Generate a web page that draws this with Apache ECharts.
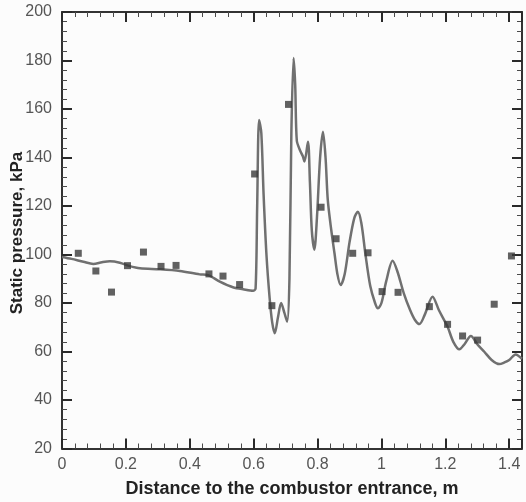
<!DOCTYPE html>
<html>
<head>
<meta charset="utf-8">
<script src="https://cdn.jsdelivr.net/npm/echarts@6/dist/echarts.min.js"></script>
<style>
html,body{margin:0;padding:0;background:#fcfcfc;}
#chart{width:526px;height:502px;}
</style>
</head>
<body>
<div id="chart"></div>
<script>
// Simulation curve
var lineX = [0, 0.03, 0.067, 0.098, 0.125, 0.15, 0.181, 0.21, 0.244, 0.306, 0.369, 0.431, 0.457, 0.494, 0.535, 0.57, 0.598, 0.606, 0.611, 0.617, 0.624, 0.631, 0.64, 0.65, 0.658, 0.666, 0.676, 0.686, 0.696, 0.705, 0.712, 0.718, 0.725, 0.73, 0.735, 0.745, 0.754, 0.759, 0.77, 0.776, 0.782, 0.79, 0.798, 0.808, 0.817, 0.825, 0.832, 0.843, 0.853, 0.862, 0.872, 0.885, 0.9, 0.915, 0.926, 0.937, 0.95, 0.965, 0.98, 0.989, 1.0, 1.015, 1.035, 1.05, 1.07, 1.09, 1.105, 1.119, 1.135, 1.16, 1.18, 1.207, 1.225, 1.244, 1.26, 1.28, 1.3, 1.322, 1.345, 1.369, 1.385, 1.4, 1.42, 1.44];
var lineY = [99, 98.2, 97, 96.1, 96.8, 97.2, 96.6, 95.3, 94.3, 93.9, 93.2, 91.8, 91.5, 88.8, 86.5, 85.6, 85.1, 86, 120, 155.5, 150, 125, 100, 82, 72, 67.5, 74, 80, 76, 72.3, 90, 150, 181, 170, 147, 143, 140.5, 138.3, 146.5, 130, 110, 102, 115, 140, 150.6, 140, 122.5, 110, 100.5, 92, 87.4, 92, 105, 115, 117.6, 113, 100, 87, 80, 77.8, 80, 89, 97.4, 93, 84, 77, 73, 71.3, 75, 82.6, 77, 70.2, 64, 60.9, 63, 66.4, 63, 59.9, 56.5, 54.8, 55.5, 56.5, 58.8, 57];
// Experimental points
var markX = [0.051, 0.106, 0.155, 0.205, 0.255, 0.31, 0.357, 0.46, 0.504, 0.556, 0.603, 0.657, 0.709, 0.811, 0.858, 0.91, 0.958, 1.002, 1.052, 1.15, 1.207, 1.254, 1.301, 1.353, 1.407];
var markY = [100.5, 93.2, 84.5, 95.4, 101, 95.1, 95.5, 92, 91.1, 87.6, 133.2, 78.9, 161.9, 119.5, 106.5, 100.5, 100.7, 84.7, 84.4, 78.5, 71.2, 66.4, 64.7, 79.5, 99.4];
var xTitle = 'Distance to the combustor entrance, m';
var yTitle = 'Static pressure, kPa';

function zip(a, b) { return a.map(function (v, i) { return [v, b[i]]; }); }

var axisColor = '#333';
function mkTick() { return { show: true, inside: true, length: 10, lineStyle: { color: '#2a2a2a', width: 2 } }; }
function mkMinor() { return { show: true, splitNumber: 5, length: 5, lineStyle: { color: '#4a4a4a', width: 1 } }; }
function mkLine(onZero) { return { show: true, onZero: onZero, lineStyle: { color: axisColor, width: 2 } }; }
var chart = echarts.init(document.getElementById('chart'));
chart.setOption({
  backgroundColor: '#fcfcfc',
  animation: false,
  grid: { left: 62, top: 12, right: 4, bottom: 53.5, outerBoundsMode: 'none', containLabel: false },
  graphic: [{
    type: 'text', x: 17, y: 233, rotation: Math.PI / 2,
    style: { text: yTitle, align: 'center', verticalAlign: 'middle', font: 'bold 17px "Liberation Sans"', fill: '#222' }
  }],
  xAxis: [{
    type: 'value', min: 0, max: 1.44, interval: 0.2,
    name: xTitle, nameLocation: 'middle', nameGap: 32,
    nameTextStyle: { fontFamily: 'Liberation Sans', fontWeight: 'bold', fontSize: 18, color: '#222' },
    axisLine: mkLine(true), axisTick: mkTick(), minorTick: mkMinor(),
    axisLabel: { showMaxLabel: false, margin: 8, fontFamily: 'Liberation Sans', fontSize: 16, color: '#555' },
    splitLine: { show: false }
  }, {
    type: 'value', min: 0, max: 1.44, interval: 0.2, position: 'top',
    axisLine: mkLine(true), axisTick: mkTick(), minorTick: mkMinor(),
    axisLabel: { show: false }, splitLine: { show: false }
  }],
  yAxis: [{
    type: 'value', min: 20, max: 200, interval: 20,
    axisLine: mkLine(true), axisTick: mkTick(), minorTick: mkMinor(),
    axisLabel: { margin: 10, fontFamily: 'Liberation Sans', fontSize: 16, color: '#555' },
    splitLine: { show: false }
  }, {
    type: 'value', min: 20, max: 200, interval: 20, position: 'right',
    axisLine: mkLine(false), axisTick: mkTick(), minorTick: mkMinor(),
    axisLabel: { show: false }, splitLine: { show: false }
  }],
  series: [{
    type: 'line', data: zip(lineX, lineY), smooth: 0.3,
    showSymbol: false, lineStyle: { color: '#707070', width: 2.5 }, z: 2
  }, {
    type: 'scatter', data: zip(markX, markY), symbol: 'rect', symbolSize: 7,
    itemStyle: { color: '#3a3a3a' }, z: 3
  }]
});
</script>
</body>
</html>
